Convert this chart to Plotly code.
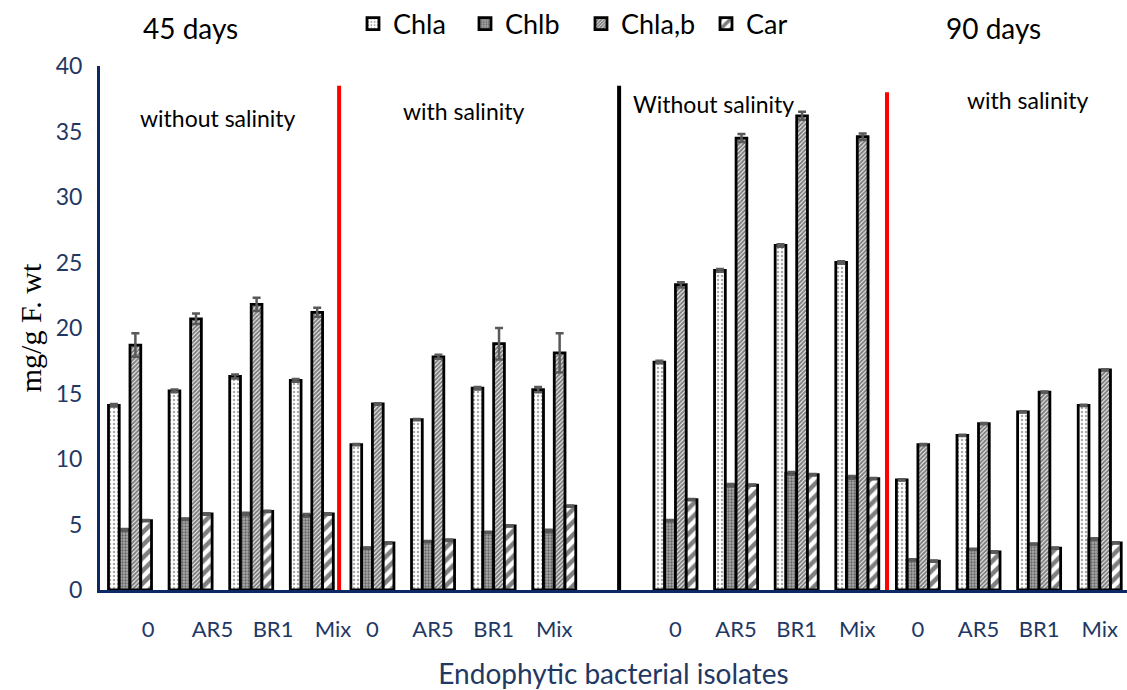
import plotly.graph_objects as go

# ---------------- data ----------------
isolates = ["0", "AR5", "BR1", "Mix"]
panels = ["45d without salinity", "45d with salinity", "90d without salinity", "90d with salinity"]
tick_labels = isolates * 4

chla = [14.1, 15.2, 16.3, 16.0,
        11.1, 13.0, 15.4, 15.3,
        17.4, 24.4, 26.3, 25.0,
        8.4, 11.8, 13.6, 14.1]
chlb = [4.6, 5.4, 5.8, 5.7,
        3.2, 3.7, 4.4, 4.5,
        5.3, 8.0, 8.9, 8.6,
        2.3, 3.1, 3.5, 3.9]
chlab = [18.7, 20.7, 21.8, 21.2,
         14.2, 17.8, 18.8, 18.1,
         23.3, 34.5, 36.2, 34.6,
         11.1, 12.7, 15.1, 16.8]
car = [5.3, 5.8, 6.0, 5.8,
       3.6, 3.8, 4.9, 6.4,
       6.9, 8.0, 8.8, 8.5,
       2.2, 2.9, 3.2, 3.6]

chla_err = [0.1, 0.1, 0.15, 0.1,
            0.05, 0.05, 0.1, 0.2,
            0.1, 0.1, 0.1, 0.1,
            0.05, 0.05, 0.05, 0.05]
chlb_err = [0.05, 0.05, 0.1, 0.1,
            0.05, 0.05, 0.05, 0.1,
            0.05, 0.1, 0.1, 0.1,
            0.05, 0.05, 0.05, 0.05]
chlab_err = [0.9, 0.4, 0.5, 0.35,
             0.05, 0.15, 1.2, 1.5,
             0.2, 0.3, 0.3, 0.25,
             0.05, 0.05, 0.05, 0.05]
car_err = [0.05, 0.05, 0.05, 0.05,
           0.05, 0.05, 0.05, 0.05,
           0.05, 0.05, 0.05, 0.05,
           0.05, 0.05, 0.05, 0.05]

# category slots: 4 panels of 4 isolates, with an empty slot before the 90-day panels
slots = [0, 1, 2, 3, 4, 5, 6, 7, 9, 10, 11, 12, 13, 14, 15, 16]

NAVY = "#1F3864"
AXIS = "#0B2A63"
ERR = "#595959"
FONT = "Lato"

series = [
    ("Chla", chla, chla_err, dict(shape=".", fgcolor="#555555", bgcolor="white", size=4, solidity=0.3), "legend"),
    ("Chlb", chlb, chlb_err, dict(shape=".", fgcolor="#222222", bgcolor="#AAAAAA", size=3, solidity=0.45), "legend2"),
    ("Chla,b", chlab, chlab_err, dict(shape="/", fgcolor="black", bgcolor="white", size=3, solidity=0.7), "legend3"),
    ("Car", car, car_err, dict(shape="/", fgcolor="black", bgcolor="white", size=9, solidity=0.5), "legend4"),
]

fig = go.Figure()
for name, vals, errs, pat, leg in series:
    fig.add_trace(go.Bar(
        x=slots, y=vals, name=name, legend=leg,
        marker=dict(color="white", pattern=pat, line=dict(color="black", width=2.8)),
        error_y=dict(type="data", array=errs, visible=True, color=ERR, thickness=2.5, width=4),
    ))

# legends (one per series, placed across the top)
leg_x = [353, 465, 581, 706]
leg_common = dict(orientation="h", yref="container", yanchor="middle", y=1 - 24 / 690,
                  xref="container", xanchor="left",
                  font=dict(family=FONT, size=27, color="black"), bgcolor="rgba(0,0,0,0)")
fig.update_layout(
    legend=dict(x=leg_x[0] / 1127, **leg_common),
    legend2=dict(x=leg_x[1] / 1127, **leg_common),
    legend3=dict(x=leg_x[2] / 1127, **leg_common),
    legend4=dict(x=leg_x[3] / 1127, **leg_common),
)

# tick positions (first panel labels sit a little to the right, as in the original)
first_panel_shift = [0.3, 0.36, 0.36, 0.35]
tick_pos = [s + (first_panel_shift[s] if s < 4 else 0.0) for s in slots]

fig.update_layout(
    width=1127, height=690,
    margin=dict(l=100, r=0, t=66, b=100, autoexpand=False),
    plot_bgcolor="white", paper_bgcolor="white",
    barmode="group", bargap=0.29, bargroupgap=0.0,
    showlegend=True,
    xaxis=dict(
        range=[-0.495, 16.45], tickmode="array", tickvals=tick_pos, ticktext=tick_labels,
        showgrid=False, zeroline=False, showline=True, linecolor=AXIS, linewidth=3,
        ticks="", tickfont=dict(family=FONT, size=22, color=NAVY), ticklabelstandoff=18,
        automargin=False,
        title=dict(text="Endophytic bacterial isolates", font=dict(family=FONT, size=28, color=NAVY), standoff=26),
    ),
    yaxis=dict(
        range=[0, 40], tickmode="array", tickvals=[0, 5, 10, 15, 20, 25, 30, 35, 40],
        showgrid=False, zeroline=False, showline=True, linecolor=AXIS, linewidth=3,
        ticks="", tickfont=dict(family=FONT, size=23, color=NAVY), ticklabelstandoff=10,
        automargin=False,
        title=dict(text="mg/g F. wt", font=dict(family="Liberation Serif", size=30, color="black"), standoff=6),
    ),
)

# separators between panels
for xpos, ytop, col in [(3.45, 38.5, "#FF0000"), (8.07, 38.5, "black"), (12.49, 38.0, "#FF0000")]:
    fig.add_shape(type="line", xref="x", yref="y", x0=xpos, x1=xpos, y0=0, y1=ytop,
                  line=dict(color=col, width=4), layer="above")

# panel annotations
for txt, xpos, ypos in [("without salinity", 1.45, 36.0), ("with salinity", 5.5, 36.6),
                        ("Without salinity", 9.62, 37.1), ("with salinity", 14.8, 37.4)]:
    fig.add_annotation(text=txt, x=xpos, y=ypos, xref="x", yref="y", showarrow=False,
                       font=dict(family=FONT, size=23, color="black"))

for txt, xpx in [("45 days", 190), ("90 days", 993)]:
    fig.add_annotation(text=txt, x=(xpx - 100) / 1027, y=(590 - 28) / 524, xref="paper", yref="paper",
                       xanchor="center", yanchor="middle",
                       showarrow=False, font=dict(family=FONT, size=28, color="black"))

fig.write_html("out.html", config={"displayModeBar": False},
               post_script="document.body.style.margin='0px';")
